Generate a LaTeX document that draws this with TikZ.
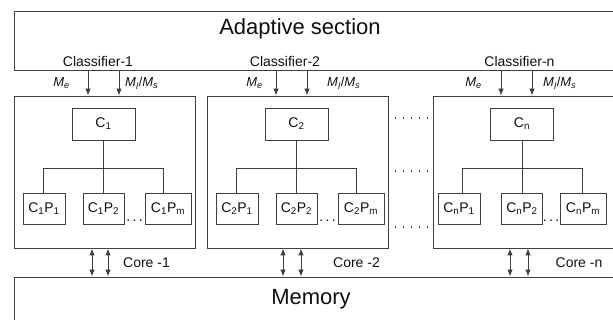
\documentclass[tikz,border=0pt]{standalone}
\usepackage{fontspec}
\setmainfont{Liberation Sans}
\usetikzlibrary{arrows.meta,calc}
\definecolor{ln}{HTML}{404040}
\definecolor{tx}{HTML}{101010}
\newcommand\sbs[1]{\textsubscript{#1}}
\begin{document}
\begin{tikzpicture}[x=1pt,y=-1pt,
 box/.style={draw=ln,line width=0.9pt,inner sep=0pt,fill=white,text=tx,font=\fontsize{14}{16}\selectfont},
 small/.style={font=\fontsize{14}{16}\selectfont,text=tx,inner sep=0pt},
 msmall/.style={font=\fontsize{13}{15}\selectfont,text=tx,inner sep=0pt},
 big/.style={font=\fontsize{22}{24}\selectfont,text=tx,inner sep=0pt},
 arr/.style={draw=ln,line width=0.9pt,-{Latex[length=7pt,width=5.5pt]}},
 darr/.style={draw=ln,line width=0.9pt,{Latex[length=7pt,width=5.5pt]}-{Latex[length=7pt,width=5.5pt]}},
 tree/.style={draw=ln,line width=0.8pt},
 dotline/.style={draw=ln,line width=1.2pt,dash pattern=on 1.2pt off 6.8pt,dash phase=1.5pt},
 cbox/.style={box,minimum width=63pt,minimum height=32pt},
 pbox/.style={box,minimum height=31pt},
]
\useasboundingbox (0,0) rectangle (613,320);
\clip (0,0) rectangle (613,320);

% outer boxes
\node[box,minimum width=616pt,minimum height=59pt] (adapt) at (322,40.5) {};
\node[box,minimum width=616pt,minimum height=60pt] (mem) at (322,307) {};
\node[box,minimum width=181pt,minimum height=152pt] (core1) at (104.5,172) {};
\node[box,minimum width=181pt,minimum height=152pt] (core2) at (297.5,172) {};
\node[box,minimum width=197pt,minimum height=152pt] (coren) at (531.5,172) {};

% big labels
\node[big,anchor=base] (tadapt) at (300,35) {Adaptive section};
\node[big,anchor=base] (tmem) at (311,305) {Memory};

% classifier labels
\node[small,anchor=base] (cl1) at (98,66.5) {Classifier-1};
\node[small,anchor=base] (cl2) at (285,66.5) {Classifier-2};
\node[small,anchor=base] (cln) at (519.5,66.5) {Classifier-n};

% C boxes
\node[cbox] (C1) at (103.5,124) {C\sbs{1}};
\node[cbox] (C2) at (296.5,124) {C\sbs{2}};
\node[cbox] (Cn) at (522,124) {C\sbs{n}};

% P boxes
\node[pbox,minimum width=42pt] (P11) at (44,208.5) {C\sbs{1}P\sbs{1}};
\node[pbox,minimum width=41pt] (P12) at (103.5,208.5) {C\sbs{1}P\sbs{2}};
\node[pbox,minimum width=46pt] (P1m) at (168,208.5) {C\sbs{1}P\sbs{m}};
\node[pbox,minimum width=42pt] (P21) at (237,208.5) {C\sbs{2}P\sbs{1}};
\node[pbox,minimum width=41pt] (P22) at (296.5,208.5) {C\sbs{2}P\sbs{2}};
\node[pbox,minimum width=46pt] (P2m) at (361,208.5) {C\sbs{2}P\sbs{m}};
\node[pbox,minimum width=42pt] (Pn1) at (459,208.5) {C\sbs{n}P\sbs{1}};
\node[pbox,minimum width=41pt] (Pn2) at (522,208.5) {C\sbs{n}P\sbs{2}};
\node[pbox,minimum width=46pt] (Pnm) at (583,208.5) {C\sbs{n}P\sbs{m}};

% dots between P boxes
\node[small,anchor=base] (dd1) at (134.5,222) {.\,.\,.};
\node[small,anchor=base] (dd2) at (327.5,222) {.\,.\,.};
\node[small,anchor=base] (ddn) at (551,222) {.\,.\,.};

% tree connectors
\coordinate (b1l) at (43,168);  \coordinate (b1r) at (163,168);
\coordinate (b2l) at (236,168); \coordinate (b2r) at (356,168);
\coordinate (bnl) at (462,168); \coordinate (bnr) at (582,168);
\draw[tree] (C1.south) -- (C1.south |- P12.north);
\draw[tree] (P11.north -| b1l) -- (b1l) -- (b1r) -- (P1m.north -| b1r);
\draw[tree] (C2.south) -- (C2.south |- P22.north);
\draw[tree] (P21.north -| b2l) -- (b2l) -- (b2r) -- (P2m.north -| b2r);
\draw[tree] (Cn.south) -- (Cn.south |- Pn2.north);
\draw[tree] (Pn1.north -| bnl) -- (bnl) -- (bnr) -- (Pnm.north -| bnr);

% dotted links between core 2 and core n
\coordinate (d1) at (0,118); \coordinate (d2) at (0,171); \coordinate (d3) at (0,227);
\draw[dotline] (core2.east |- d1) -- (coren.west |- d1);
\draw[dotline] (core2.east |- d2) -- (coren.west |- d2);
\draw[dotline] (core2.east |- d3) -- (coren.west |- d3);

% classifier arrows
\coordinate (a1e) at (88,0);  \coordinate (a1l) at (119,0);
\coordinate (a2e) at (276,0); \coordinate (a2l) at (307,0);
\coordinate (ane) at (501,0); \coordinate (anl) at (532,0);
\draw[arr] (adapt.south -| a1e) -- (core1.north -| a1e);
\draw[arr] (adapt.south -| a1l) -- (core1.north -| a1l);
\draw[arr] (adapt.south -| a2e) -- (core2.north -| a2e);
\draw[arr] (adapt.south -| a2l) -- (core2.north -| a2l);
\draw[arr] (adapt.south -| ane) -- (coren.north -| ane);
\draw[arr] (adapt.south -| anl) -- (coren.north -| anl);

% M labels
\node[msmall,anchor=base east] (me1) at (70,87) {\textit{M}\sbs{\textit{e}}};
\node[msmall,anchor=base west] (ml1) at (125,87) {\textit{M}\sbs{\textit{l}}/\textit{M}\sbs{\textit{s}}};
\node[msmall,anchor=base east] (me2) at (263,87) {\textit{M}\sbs{\textit{e}}};
\node[msmall,anchor=base west] (ml2) at (327,87) {\textit{M}\sbs{\textit{l}}/\textit{M}\sbs{\textit{s}}};
\node[msmall,anchor=base east] (men) at (482,87) {\textit{M}\sbs{\textit{e}}};
\node[msmall,anchor=base west] (mln) at (543,87) {\textit{M}\sbs{\textit{l}}/\textit{M}\sbs{\textit{s}}};

% core to memory arrows
\coordinate (m1a) at (92,0);  \coordinate (m1b) at (108,0);
\coordinate (m2a) at (283,0); \coordinate (m2b) at (301,0);
\coordinate (mna) at (510,0); \coordinate (mnb) at (528,0);
\draw[darr] (core1.south -| m1a) -- (mem.north -| m1a);
\draw[darr] (core1.south -| m1b) -- (mem.north -| m1b);
\draw[darr] (core2.south -| m2a) -- (mem.north -| m2a);
\draw[darr] (core2.south -| m2b) -- (mem.north -| m2b);
\draw[darr] (coren.south -| mna) -- (mem.north -| mna);
\draw[darr] (coren.south -| mnb) -- (mem.north -| mnb);

% core labels
\node[small,anchor=base] (k1) at (146.5,268) {Core -1};
\node[small,anchor=base] (k2) at (356.5,268) {Core -2};
\node[small,anchor=base] (kn) at (579,268) {Core -n};
\end{tikzpicture}
\end{document}
